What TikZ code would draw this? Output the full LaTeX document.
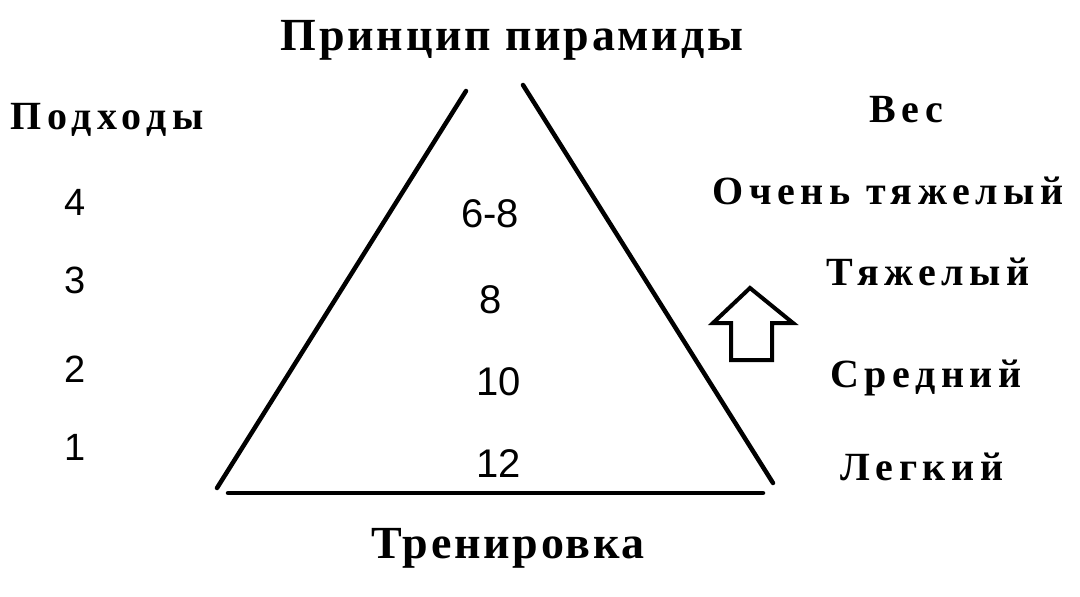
\documentclass[tikz,border=0pt]{standalone}
\usepackage{fontspec}
\setmainfont{Liberation Serif}
\newfontfamily\headserif{Liberation Serif}[LetterSpace=6]
\newfontfamily\spacedserif{Liberation Serif}[LetterSpace=14]
\newfontfamily\numsans{Liberation Sans}
\usetikzlibrary{positioning}
\tikzset{
	heading/.style={font=\headserif\bfseries\fontsize{46}{54}\selectfont, inner sep=0pt, anchor=base},
	sidetext/.style={font=\spacedserif\bfseries\fontsize{40}{46}\selectfont, inner sep=0pt, anchor=base},
	setcount/.style={font=\numsans\fontsize{38}{44}\selectfont, inner sep=0pt, anchor=base},
	repcount/.style={font=\numsans\fontsize{40}{46}\selectfont, inner sep=0pt, anchor=base},
	% triangle sides and the hollow arrow
	side/.style={line width=4.5pt, line cap=round},
	hollow/.style={line width=4pt, line join=miter},
}
\begin{document}
\begin{tikzpicture}[x=1pt, y=-1pt]
				\useasboundingbox (0,0) rectangle (1080,597);
				
				\node (title) [heading] at (512,50) {Принцип пирамиды};
				\node (train) [heading] at (508,558) {Тренировка};
				
				\node (sets) [sidetext] at (107,129) {Подходы};
				\node (s4) [setcount] at (75,215) {4};
				\node (s3) [setcount] at (75,293) {3};
				\node (s2) [setcount] at (75,382) {2};
				\node (s1) [setcount] at (75,460) {1};
				
				\node (r4) [repcount] at (490,227) {6-8};
				\node (r3) [repcount] at (491,313) {8};
				\node (r2) [repcount] at (499,395) {10};
				\node (r1) [repcount] at (499,477) {12};
				
				\node (weight) [sidetext] at (906,122) {Вес};
				\node (w4) [sidetext] at (888,204) {Очень тяжелый};
				\node (w3) [sidetext] at (928,285) {Тяжелый};
				\node (w2) [sidetext] at (926,387) {Средний};
				\node (w1) [sidetext] at (922,480) {Легкий};
				
				% open apex of the pyramid
				\coordinate (ltop) at (466,91);
				\coordinate (lbot) at (217,488);
				\coordinate (rtop) at (523,85);
				\coordinate (rbot) at (773,483);
				\coordinate (bl) at (228,493);
				\coordinate (br) at (763,493);
				
				\begin{scope}[side, black]
					\draw (ltop) -- (lbot);
					\draw (rtop) -- (rbot);
					\draw (bl) -- (br);
				\end{scope}
				
				\draw [hollow] (750,288) -- (793,323) -- (772,323) -- (772,360)
					-- (731,360) -- (731,323) -- (713,323) -- cycle;
				
			\end{tikzpicture}
\end{document}
